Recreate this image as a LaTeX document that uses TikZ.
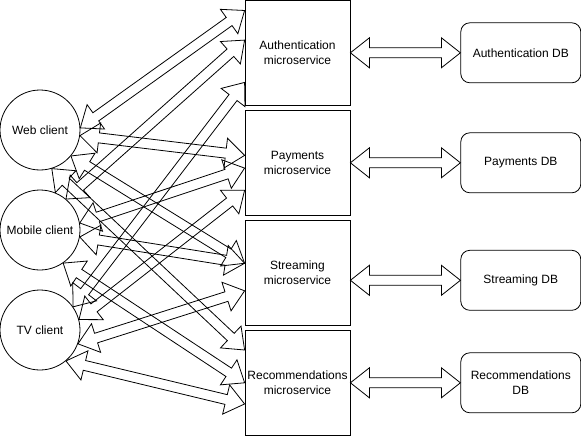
\documentclass[tikz,border=0pt]{standalone}
\usepackage{fontspec}
\setmainfont{Liberation Sans}
\usetikzlibrary{calc,positioning,shapes}

\newcommand{\headlen}{19pt}
\newcommand{\headw}{15pt}
\newcommand{\bodyw}{5pt}

\tikzset{
    client/.style={circle, draw=black, line width=0.8pt, minimum size=80pt, inner sep=0pt, align=center},
    service/.style={rectangle, draw=black, line width=0.8pt, minimum width=105pt, minimum height=105pt, inner sep=0pt, align=center},
    store/.style={rectangle, rounded corners=9pt, draw=black, line width=0.8pt, minimum width=120pt, minimum height=60pt, inner sep=0pt, align=center},
    flex/.style={draw=black, line width=0.8pt, line join=miter},
}

% hollow two-headed arrow between two points
\newcommand{\flexarrow}[2]{%
    \coordinate (fa) at (#1);
    \coordinate (fb) at (#2);
    \coordinate (ha) at ($(fa)!\headlen!(fb)$);
    \coordinate (hb) at ($(fb)!\headlen!(fa)$);
    \draw[flex] (fa) -- ($(ha)!\headw!90:(fb)$) -- ($(ha)!\bodyw!90:(fb)$)
        -- ($(hb)!\bodyw!-90:(fa)$) -- ($(hb)!\headw!-90:(fa)$) -- (fb)
        -- ($(hb)!\headw!90:(fa)$) -- ($(hb)!\bodyw!90:(fa)$)
        -- ($(ha)!\bodyw!-90:(fb)$) -- ($(ha)!\headw!-90:(fb)$) -- cycle;
}

\begin{document}
\begin{tikzpicture}
        [x=1pt, y=-1pt, font=\fontsize{12}{15}\selectfont]
        \useasboundingbox (0,0) rectangle (581,436);

        % Clients
        \node[client] (web) at (40,130) {Web client};
        \node[client, below=19.2pt of web] (mobile) {Mobile client};
        \node[client, below=19.2pt of mobile] (tv) {TV client};

        % Microservices
        \node[service] (auth) at (297.5,52.8) {Authentication\\microservice};
        \node[service, below=4.2pt of auth] (payments) {Payments\\microservice};
        \node[service, below=4.2pt of payments] (streaming) {Streaming\\microservice};
        \node[service, below=4.2pt of streaming] (recommendations) {Recommendations\\microservice};

        % Databases
        \node[store, right=110pt of auth] (authdb) {Authentication DB};
        \node[store, right=110pt of payments] (paydb) {Payments DB};
        \node[store, right=110pt of streaming, yshift=-7.5pt] (streamdb) {Streaming DB};
        \node[store, right=110pt of recommendations] (recdb) {Recommendations\\DB};

        % Microservice to database arrows
        \flexarrow{auth.east}{authdb.west}
        \flexarrow{payments.east}{paydb.west}
        \flexarrow{streamdb.west -| streaming.east}{streamdb.west}
        \flexarrow{recommendations.east}{recdb.west}

        % Web client arrows
        \flexarrow{web.3}{$(auth.north west)!0.1!(auth.south west)$}
        \flexarrow{web.-8}{$(payments.north west)!0.43!(payments.south west)$}
        \flexarrow{web.-40}{$(streaming.north west)!0.41!(streaming.south west)$}
        \flexarrow{web.-73}{$(recommendations.north west)!0.19!(recommendations.south west)$}

        % Mobile client arrows
        \flexarrow{mobile.50}{$(auth.north west)!0.38!(auth.south west)$}
        \flexarrow{mobile.10}{$(payments.north west)!0.55!(payments.south west)$}
        \flexarrow{mobile.-10}{$(streaming.north west)!0.41!(streaming.south west)$}
        \flexarrow{mobile.-55}{$(recommendations.north west)!0.5!(recommendations.south west)$}

        % TV client arrows
        \flexarrow{tv.35}{$(auth.north west)!0.78!(auth.south west)$}
        \flexarrow{tv.15}{$(payments.north west)!0.76!(payments.south west)$}
        \flexarrow{tv.-20}{$(streaming.north west)!0.67!(streaming.south west)$}
        \flexarrow{tv.-50}{$(recommendations.north west)!0.7!(recommendations.south west)$}
    \end{tikzpicture}
\end{document}
